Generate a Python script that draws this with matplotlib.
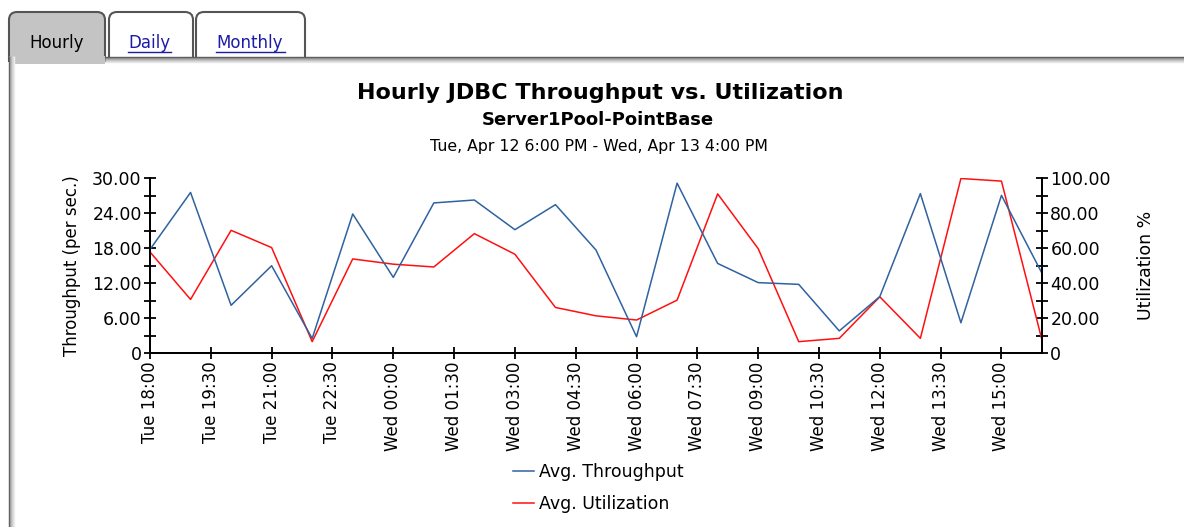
import numpy as np
import matplotlib.pyplot as plt
from matplotlib.patches import FancyBboxPatch, Rectangle
from matplotlib.ticker import FixedLocator

# hours after Tue 18:00
hours = list(range(23))
throughput = [17.8, 27.6, 8.2, 15.0, 2.5, 23.9, 13.0, 25.8, 26.3, 21.2, 25.5, 17.7,
              2.8, 29.2, 15.4, 12.1, 11.8, 3.8, 9.7, 27.4, 5.2, 27.1, 13.7]
utilization = [57.9, 30.7, 70.3, 60.4, 6.5, 53.9, 50.9, 49.3, 68.4, 56.6, 26.1, 21.3,
               18.9, 30.3, 91.2, 59.8, 6.5, 8.4, 32.2, 8.4, 100.0, 98.5, 7.4]
tick_pos = [0, 1.5, 3, 4.5, 6, 7.5, 9, 10.5, 12, 13.5, 15, 16.5, 18, 19.5, 21]
tick_labels = ["Tue 18:00", "Tue 19:30", "Tue 21:00", "Tue 22:30", "Wed 00:00",
               "Wed 01:30", "Wed 03:00", "Wed 04:30", "Wed 06:00", "Wed 07:30",
               "Wed 09:00", "Wed 10:30", "Wed 12:00", "Wed 13:30", "Wed 15:00"]
tabs = ["Hourly", "Daily", "Monthly"]

W, H = 1184, 527
fig = plt.figure(figsize=(W / 100, H / 100), dpi=100)
plt.rcParams['font.family'] = ['DejaVu Sans']

# page chrome: tabs and panel border, drawn in pixel coords
bg = fig.add_axes([0, 0, 1, 1], zorder=-5)
bg.set_xlim(0, W)
bg.set_ylim(H, 0)
bg.axis('off')

tab_boxes = [(9, 105), (109, 193), (196, 305)]
for i, (x0, x1) in enumerate(tab_boxes):
    face = "#c4c4c4" if i == 0 else "white"
    bg.add_patch(FancyBboxPatch((x0 + 8, 20), x1 - x0 - 16, 60,
                                boxstyle="round,pad=8", fc=face, ec="#555555", lw=1.5))
bg.add_patch(Rectangle((0, 62), W, H, fc="white", ec="none"))
bg.add_patch(Rectangle((9, 56), 96, 8, fc="#c4c4c4", ec="none"))
for k, c in enumerate(["#555555", "#8a8a8a", "#a8a8a8", "#c0c0c0", "#d4d4d4", "#e6e6e6"]):
    bg.plot([105, W], [57 + k, 57 + k], color=c, lw=1.0, solid_capstyle='butt')
for k, c in enumerate(["#555555", "#9a9a9a", "#b8b8b8", "#cccccc", "#dcdcdc", "#ececec"]):
    bg.plot([9 + k, 9 + k], [56, H], color=c, lw=1.0, solid_capstyle='butt')

link = '#1c1ca8'
bg.text(57, 43, tabs[0], ha='center', va='center', fontsize=12, color='black')
bg.text(149, 43, tabs[1], ha='center', va='center', fontsize=12, color=link)
bg.plot([128, 171], [51.5, 51.5], color=link, lw=1)
bg.text(250, 43, tabs[2], ha='center', va='center', fontsize=12, color=link)
bg.plot([216, 285], [51.5, 51.5], color=link, lw=1)

# titles
fig.text(600 / W, 1 - 93 / H, "Hourly JDBC Throughput vs. Utilization",
         ha='center', va='center', fontsize=16, fontweight='bold')
fig.text(598 / W, 1 - 120 / H, "Server1Pool-PointBase", ha='center', va='center',
         fontsize=13, fontweight='bold')
fig.text(599 / W, 1 - 146 / H, "Tue, Apr 12 6:00 PM - Wed, Apr 13 4:00 PM",
         ha='center', va='center', fontsize=11.3)

ax = fig.add_axes([150 / W, 1 - 353 / H, (1042 - 150) / W, (353 - 178.5) / H])
ax2 = ax.twinx()

blue = "#2f62a0"
red = "#ff1010"
l1, = ax.plot(hours, throughput, color=blue, lw=1.1, label="Avg. Throughput")
l2, = ax2.plot(hours, utilization, color=red, lw=1.1, label="Avg. Utilization")
ax.set_zorder(ax2.get_zorder() + 1)
ax.patch.set_visible(False)

ax.set_xlim(0, 22)
ax.set_ylim(0, 30)
ax2.set_ylim(0, 100)

for a in (ax, ax2):
    a.spines['top'].set_visible(False)
    for s in a.spines.values():
        s.set_linewidth(1.4)

ax.set_xticks(tick_pos)
ax.set_xticklabels(tick_labels, rotation=90, fontsize=12)
ax.tick_params(axis='x', direction='inout', length=8, width=1.3, pad=2)

ax.set_yticks([0, 6, 12, 18, 24, 30])
ax.set_yticklabels(["0", "6.00", "12.00", "18.00", "24.00", "30.00"], fontsize=12.5)
ax.yaxis.set_minor_locator(FixedLocator([3, 9, 15, 21, 27]))
ax.tick_params(axis='y', which='both', direction='inout', length=8, width=1.3, pad=2)

ax2.set_yticks([0, 20, 40, 60, 80, 100])
ax2.set_yticklabels(["0", "20.00", "40.00", "60.00", "80.00", "100.00"], fontsize=12.5)
ax2.yaxis.set_minor_locator(FixedLocator([10, 30, 50, 70, 90]))
ax2.tick_params(axis='y', which='both', direction='inout', length=8, width=1.3, pad=2)

ax.set_ylabel("Throughput (per sec.)", fontsize=12, labelpad=8)
ax2.set_ylabel("Utilization %", fontsize=12.5, labelpad=19)

fig.legend(handles=[l1, l2], loc='center', bbox_to_anchor=(598 / W, 1 - 488 / H),
           frameon=False, fontsize=12.5, handlelength=1.2, handletextpad=0.3,
           labelspacing=0.85)

fig.savefig("out.png", dpi=100)
